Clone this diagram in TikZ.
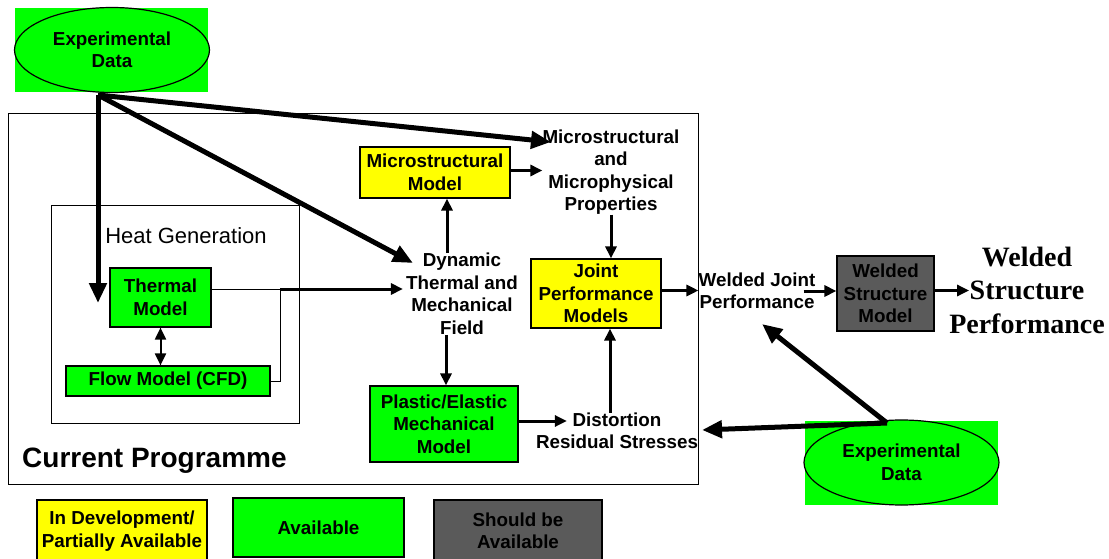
\documentclass[tikz,border=0pt]{standalone}
\usepackage{fontspec}
\setmainfont{Liberation Sans}
\newfontfamily\timesfont{Liberation Serif}
\usetikzlibrary{positioning,arrows.meta,shapes.geometric}
\definecolor{avail}{RGB}{0,255,0}
\definecolor{devel}{RGB}{255,255,0}
\definecolor{should}{RGB}{90,90,90}

\begin{document}
\begin{tikzpicture}[
    x = 1pt, y = -1pt,
    > = {Triangle[length=12pt,width=11pt]},
    model/.style={rectangle, draw, line width=1.2pt, align=center, inner sep=0pt,
        font=\bfseries\fontsize{18.8}{22.5}\selectfont},
    plaintext/.style={align=center, inner sep=0pt, font=\bfseries\fontsize{18.8}{22.5}\selectfont},
    frame/.style={rectangle, draw, line width=0.8pt, inner sep=0pt},
    datum/.style={ellipse, draw, line width=1.2pt, fill=avail, inner sep=0pt,
        minimum width=195pt, minimum height=85pt, align=center,
        font=\bfseries\fontsize{18.8}{22.5}\selectfont},
    backdrop/.style={rectangle, fill=avail, inner sep=0pt, minimum width=193pt, minimum height=84pt},
    arrow/.style={->, line width=3pt},
    bigarrow/.style={-{Triangle[length=20pt,width=17pt]}, line width=5pt},
    wire/.style={line width=1pt}
]
    \useasboundingbox (0,0) rectangle (1109,559);

    % frames
    \node[frame, minimum width=690pt, minimum height=371pt] (prog) at (353,298.5) {};
    \node[frame, minimum width=248pt, minimum height=218pt] (heat) at (175,314) {};
    \node[inner sep=0pt, font=\fontsize{22}{26}\selectfont] (heatlbl) at (186,236) {Heat Generation};
    \node[inner sep=0pt, anchor=west, font=\bfseries\fontsize{28}{32}\selectfont] (proglbl) at (22,461) {Current Programme};

    % experimental data
    \node[backdrop] (topbg) at (111.5,50) {};
    \node[datum] (exptop) at (112,50) {Experimental\\Data};
    \node[backdrop] (botbg) at (901.5,462.5) {};
    \node[datum] (expbot) at (901.5,462.5) {Experimental\\Data};

    % models
    \node[model, fill=avail, minimum width=101pt, minimum height=59pt] (thermal) at (160.5,297.5) {Thermal\\Model};
    \node[model, fill=avail, minimum width=204pt, minimum height=30pt] (flow) at (168,381) {Flow Model (CFD)};
    \node[model, fill=devel, minimum width=150pt, minimum height=51pt] (micro) at (435,172.5) {Microstructural\\Model};
    \node[model, fill=devel, minimum width=130pt, minimum height=69pt] (joint) at (596,293.5) {Joint\\Performance\\Models};
    \node[model, fill=avail, minimum width=148pt, minimum height=76pt] (plastic) at (444,424) {Plastic/Elastic\\Mechanical\\Model};
    \node[model, fill=should, minimum width=97pt, minimum height=75pt] (wstruct) at (885.5,293.5) {Welded\\Structure\\Model};

    % results
    \node[plaintext] (props) at (611,172) {Microstructural\\and\\Microphysical\\Properties};
    \node[plaintext] (dyn) at (462,294) {Dynamic\\Thermal and\\Mechanical\\Field};
    \node[plaintext] (dist) at (617,431) {Distortion\\Residual Stresses};
    \node[plaintext] (wjp) at (757,291) {Welded Joint\\Performance};
    \node[align=center, inner sep=0pt, font=\timesfont\bfseries\fontsize{28}{33.5}\selectfont] (wsp) at (1027,290) {Welded\\Structure\\Performance};

    % legend
    \node[model, fill=devel, minimum width=170pt, minimum height=62pt] (keydev) at (122,531) {In Development/\\Partially Available};
    \node[model, fill=avail, minimum width=171pt, minimum height=59pt] (keyavail) at (318.5,527.5) {Available};
    \node[model, fill=should, minimum width=168pt, minimum height=62pt] (keyshould) at (518,531) {Should be\\Available};

    % free ends
    \coordinate (srctop) at (98,95);
    \coordinate (thermin) at (98,303);
    \coordinate (dynin) at (413,263);
    \coordinate (propsin) at (551,142);
    \coordinate (srcbot) at (887,423);
    \coordinate (wjpin) at (762,324);
    \coordinate (distin) at (702,430);
    \coordinate (junction) at (280,289);

    \draw[bigarrow] (srctop) -- (thermin);
    \draw[bigarrow] (srctop) -- (dynin);
    \draw[bigarrow] (srctop) -- (propsin);
    \draw[bigarrow] (srcbot) -- (wjpin);
    \draw[bigarrow] (srcbot) -- (distin);

    \draw[wire] (thermal.east |- junction) -- (junction);
    \draw[wire] (flow.east) -| (junction);
    \draw[<->, line width=2pt] (thermal.south) -- (thermal.south |- flow.north);

    \draw[arrow] (junction) -- ([xshift=-3pt]dyn.west |- junction);
    \draw[arrow] ([xshift=-15pt]dyn.north) -- ([xshift=-15pt]dyn.north |- micro.south);
    \draw[arrow] ([xshift=-16pt]dyn.south) -- ([xshift=-16pt]dyn.south |- plastic.north);
    \draw[arrow] ([yshift=2pt]micro.east) -- ([yshift=2pt]props.west |- micro.east);
    \draw[arrow] (props.south) -- (props.south |- joint.north);
    \draw[arrow] ([xshift=-7pt]dist.north) -- ([xshift=-7pt]dist.north |- joint.south);
    \draw[arrow] ([yshift=3pt]plastic.east) -- ([xshift=31pt, yshift=3pt]dist.west |- plastic.east);
    \draw[arrow] ([yshift=3pt]joint.east) -- ([yshift=3pt]wjp.west |- joint.east);
    \draw[arrow] ([xshift=-12pt]wjp.east) -- (wstruct.west |- wjp.east);
    \draw[arrow] ([yshift=3pt]wstruct.east) -- ([xshift=20pt, yshift=3pt]wsp.west |- wstruct.east);
\end{tikzpicture}
\end{document}
